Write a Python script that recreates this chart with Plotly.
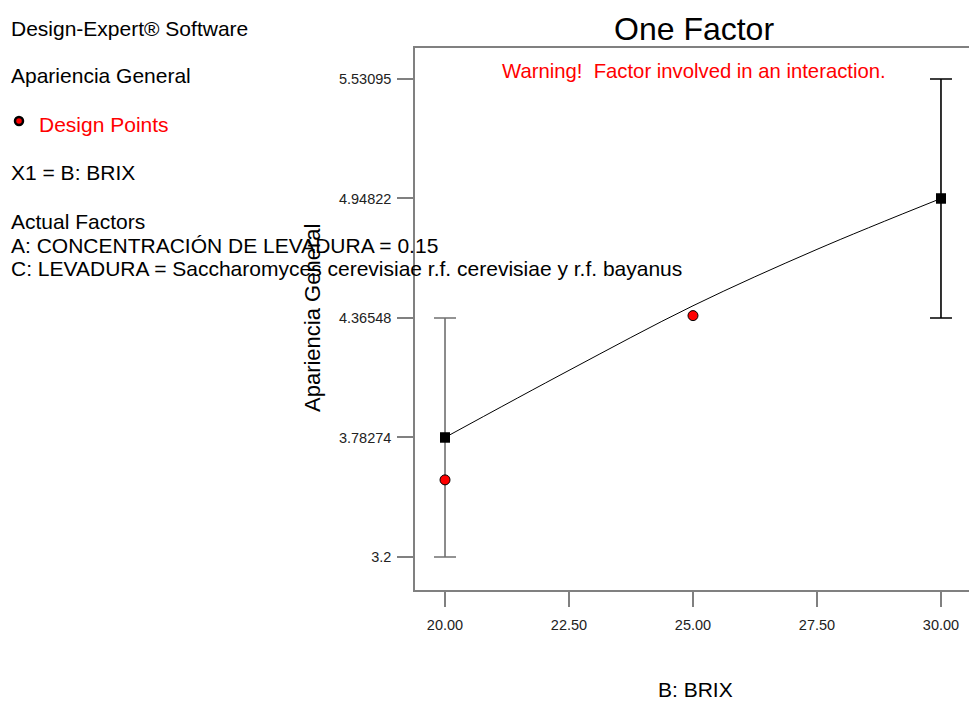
import plotly.graph_objects as go

# ---- data ----
brix_levels = [20, 30]
predicted = [3.78274, 4.94822]
ci_half = [0.58274, 0.58274]
bar_colors = ["#707070", "#000000"]

design_x = [20, 25]
design_y = [3.576, 4.377]

curve_x = [20, 22.5, 25, 27.5, 30]
curve_y = [3.78274, 4.11, 4.425, 4.70, 4.94822]

x_ticks = [20, 22.5, 25, 27.5, 30]
y_ticks = [3.2, 3.78274, 4.36548, 4.94822, 5.53095]
y_ticktext = ["3.2", "3.78274", "4.36548", "4.94822", "5.53095"]

W, H = 969, 701
L, R, T, B = 415, 0, 48, 111
PW, PH = W - L - R, H - T - B
FONT = "Liberation Sans, Arial, sans-serif"


def px(x):
    return (x - L) / PW


def py(y):
    return 1 - (y - T) / PH


fig = go.Figure()

# fitted curve
fig.add_trace(go.Scatter(x=curve_x, y=curve_y, mode="lines",
                         line=dict(color="black", width=1, shape="spline"),
                         hoverinfo="skip", showlegend=False))

# error bars (LSD / CI)
for i in range(len(brix_levels)):
    fig.add_trace(go.Scatter(
        x=[brix_levels[i]], y=[predicted[i]], mode="markers",
        marker=dict(symbol="square", size=10, color="black"),
        error_y=dict(type="data", array=[ci_half[i]], visible=True,
                     color=bar_colors[i], thickness=1.6, width=11),
        showlegend=False))

# design points
fig.add_trace(go.Scatter(x=design_x, y=design_y, mode="markers",
                         marker=dict(symbol="circle", size=10, color="#ff0000",
                                     line=dict(color="black", width=1)),
                         showlegend=False))

# re-draw predicted squares on top
fig.add_trace(go.Scatter(x=brix_levels, y=predicted, mode="markers",
                         marker=dict(symbol="square", size=10, color="black"),
                         showlegend=False))

axis_common = dict(showgrid=False, zeroline=False, showline=True,
                   linecolor="#808080", linewidth=1.5, ticks="outside",
                   tickcolor="#808080", tickwidth=1.5,
                   tickfont=dict(family=FONT, size=14.5, color="#222"))

fig.update_xaxes(range=[19.395, 30.565], tickvals=x_ticks, tickformat=".2f",
                 ticklen=15, mirror=True, ticklabelstandoff=6, **axis_common)
fig.update_yaxes(range=[3.039, 5.682], tickvals=y_ticks, ticktext=y_ticktext,
                 ticklen=16, mirror=False, ticklabelstandoff=3, **axis_common)

ann = []


def add_text(text, x, y, size=21, color="black", xanchor="left", angle=0):
    ann.append(dict(text=text, x=px(x), y=py(y), xref="paper", yref="paper",
                    xanchor=xanchor, yanchor="middle", showarrow=False,
                    textangle=angle,
                    font=dict(family=FONT, size=size, color=color)))


add_text("Design-Expert® Software", 9, 28)
add_text("Apariencia General", 9, 76)
add_text("Design Points", 37, 124, color="#ff0000")
add_text("X1 = B: BRIX", 9, 172)
add_text("Actual Factors", 9, 221)
add_text("A: CONCENTRACIÓN DE LEVADURA = 0.15", 9, 245)
add_text("C: LEVADURA = Saccharomyces cerevisiae r.f. cerevisiae y r.f. bayanus", 9, 269)
add_text("One Factor", 694, 29, size=32, xanchor="center")
add_text("Warning!  Factor involved in an interaction.", 500, 71, size=20.3, color="#ff0000")
add_text("B: BRIX", 695, 689, size=21, xanchor="center")
add_text("Apariencia General", 312, 318, size=22, xanchor="center", angle=-90)

shapes = [dict(type="circle", xref="paper", yref="paper",
               xsizemode="pixel", ysizemode="pixel",
               xanchor=px(19), yanchor=py(121),
               x0=-4, x1=4, y0=-4, y1=4,
               fillcolor="#ff0000", line=dict(color="black", width=2.5))]

fig.update_layout(width=W, height=H, margin=dict(l=L, r=R, t=T, b=B),
                  paper_bgcolor="white", plot_bgcolor="white",
                  annotations=ann, shapes=shapes, showlegend=False,
                  font=dict(family=FONT))

fig.write_html("out.html")
